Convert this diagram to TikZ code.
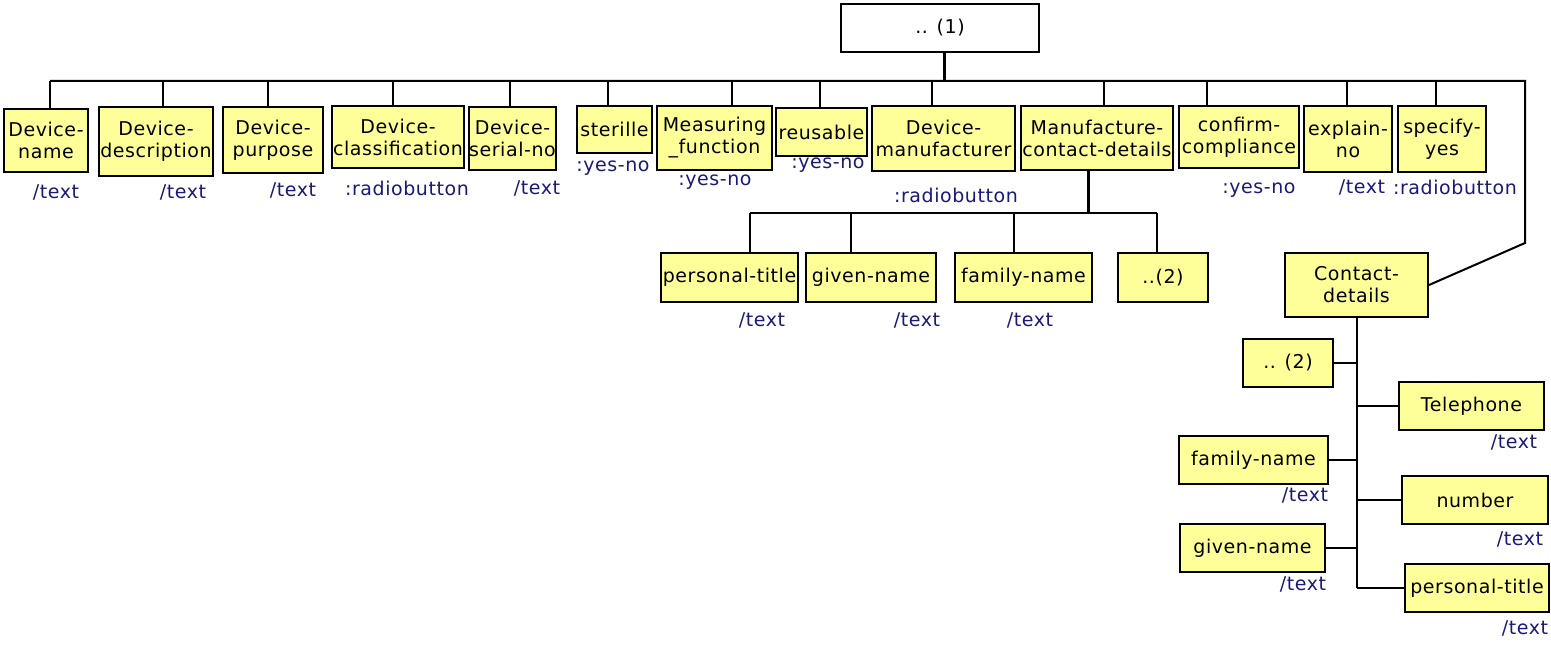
\documentclass[tikz,border=0pt]{standalone}
\usepackage{fontspec}
\setmainfont{DejaVu Sans}[LetterSpace=3]
\definecolor{boxfill}{RGB}{255,255,153}
\definecolor{labc}{RGB}{25,25,120}
\tikzset{
 box/.style={draw=black, line width=2pt, fill=boxfill, inner sep=0pt, align=center, font=\fontsize{19}{22}\selectfont},
 lab/.style={text=labc, inner sep=0pt, font=\fontsize{19}{22}\selectfont},
 conn/.style={line width=2pt},
 thick conn/.style={line width=3pt},
}
\newcommand{\Bx}[6]{\node[box,minimum width={#4-#3},minimum height={#6-#5}] (#1) at ({(#3+#4)/2},{(#5+#6)/2}) {#2};}
\begin{document}
\begin{tikzpicture}[x=1pt,y=-1pt]
\useasboundingbox (0,0) rectangle (1551,652);
% root
\node[draw=black, line width=2pt, fill=white, minimum width=198, minimum height=48, inner sep=0pt, font=\fontsize{19}{22}\selectfont] (root) at (940,28) {.. (1)};
% row 1
\Bx{devname}{Device-\\name}{4}{88}{109}{172}
\Bx{devdesc}{Device-\\description}{99}{213}{107}{176}
\Bx{devpurp}{Device-\\purpose}{223}{323}{107}{173}
\Bx{devclass}{Device-\\classification}{332}{464}{106}{168}
\Bx{devserial}{Device-\\serial-no}{470}{555}{107}{170}
\Bx{sterille}{sterille}{577}{652}{106}{153}
\Bx{measuring}{Measuring\\\_function}{657}{772}{106}{170}
\Bx{reusable}{reusable}{776}{867}{108}{156}
\Bx{devmanuf}{Device-\\manufacturer}{872}{1015}{106}{171}
\Bx{mcd}{Manufacture-\\contact-details}{1021}{1173}{106}{170}
\Bx{confirm}{confirm-\\compliance}{1179}{1299}{106}{168}
\Bx{explain}{explain-\\no}{1304}{1392}{106}{172}
\Bx{specify}{specify-\\yes}{1398}{1486}{106}{172}
% row 2
\Bx{mptitle}{personal-title}{661}{798}{253}{302}
\Bx{mgname}{given-name}{806}{936}{253}{302}
\Bx{mfname}{family-name}{955}{1092}{253}{302}
\Bx{mdots}{..(2)}{1118}{1208}{253}{302}
% contact details
\Bx{contact}{Contact-\\details}{1285}{1428}{253}{317}
\Bx{cdots}{.. (2)}{1243}{1333}{339}{387}
\Bx{ctel}{Telephone}{1399}{1544}{382}{430}
\Bx{cfam}{family-name}{1179}{1328}{436}{484}
\Bx{cnum}{number}{1402}{1548}{476}{524}
\Bx{cgiv}{given-name}{1180}{1325}{524}{572}
\Bx{cpt}{personal-title}{1405}{1549}{564}{612}
% labels
\node[lab] (l1) at (56,192) {/text};
\node[lab] (l2) at (183,192) {/text};
\node[lab] (l3) at (293,190) {/text};
\node[lab] (l4) at (407,188) {:radiobutton};
\node[lab] (l5) at (537,188) {/text};
\node[lab] (l6) at (613,168) {:yes-no};
\node[lab] (l7) at (715,182) {:yes-no};
\node[lab] (l8) at (828,165) {:yes-no};
\node[lab] (l9) at (956,195) {:radiobutton};
\node[lab] (l10) at (1259,190) {:yes-no};
\node[lab] (l11) at (1362,187) {/text};
\node[lab] (l12) at (1455,187) {:radiobutton};
\node[lab] (l13) at (762,320) {/text};
\node[lab] (l14) at (917,320) {/text};
\node[lab] (l15) at (1030,320) {/text};
\node[lab] (l16) at (1514,442) {/text};
\node[lab] (l17) at (1305,495) {/text};
\node[lab] (l18) at (1520,539) {/text};
\node[lab] (l19) at (1303,584) {/text};
\node[lab] (l20) at (1525,628) {/text};
% main bus
\coordinate (busL) at (50,81);
\coordinate (busR) at (1525,81);
\coordinate (busD) at (1525,243);
\draw[thick conn] ([xshift=4]root.south) -- ([xshift=4]root.south |- busL);
\draw[conn] (busL) -- (busR) -- (busD) -- (contact.east);
\foreach \n/\d in {devname/4, devdesc/7, devpurp/-5, devclass/-5, devserial/-2.5, sterille/-6.5, measuring/17.5, reusable/-1.5, devmanuf/-11.5, mcd/7, confirm/-32, explain/-1, specify/-6}
  \draw[conn] ([xshift=\d]\n.north) -- ([xshift=\d]\n.north |- busL);
% manufacture contact details children
\coordinate (mL) at (750,213);
\coordinate (mR) at (1157,213);
\draw[thick conn] ([xshift=-9]mcd.south) -- ([xshift=-9]mcd.south |- mL);
\draw[conn] (mL) -- (mR);
\foreach \n/\d in {mptitle/20.5, mgname/-20, mfname/-9.5, mdots/-6}
  \draw[conn] ([xshift=\d]\n.north) -- ([xshift=\d]\n.north |- mL);
% contact details children
\coordinate (cEnd) at (1357,588);
\draw[conn] ([xshift=0.5]contact.south) -- (cEnd);
\foreach \n in {cdots, cfam, cgiv}
  \draw[conn] (\n.east) -- (\n.east -| cEnd);
\foreach \n in {ctel, cnum, cpt}
  \draw[conn] (\n.west) -- (\n.west -| cEnd);
\end{tikzpicture}
\end{document}
